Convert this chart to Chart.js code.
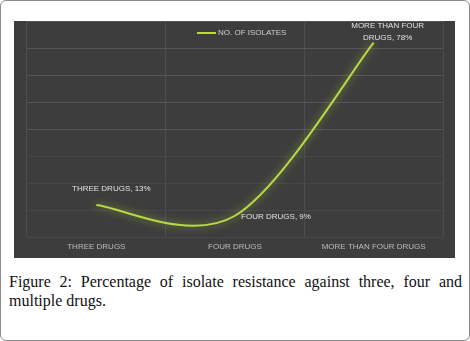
<!DOCTYPE html>
<html>
<head>
<meta charset="utf-8">
<script src="https://cdn.jsdelivr.net/npm/chart.js@4"></script>
<style>
  body { margin: 0; width: 470px; height: 341px; background: #fff; position: relative; overflow: hidden; }
  .frame { position: absolute; left: 0; top: 0; width: 468px; height: 339px; border: 1px solid #8c8c8c; border-radius: 6px; }
  .panel { position: absolute; left: 14px; top: 21px; width: 441px; height: 237px; background: #3d3d3d; }
  .caption { position: absolute; left: 9px; top: 272px; width: 453px; font-family: "Liberation Serif", "DejaVu Serif", serif; font-size: 16px; line-height: 19px; color: #111; text-align: justify; text-align-last: left; }
</style>
</head>
<body>
<div class="frame"></div>
<div class="panel"><canvas id="myChart"></canvas></div>
<div class="caption">Figure 2: Percentage of isolate resistance against three, four and multiple drugs.</div>

<script>
const categories = ['THREE DRUGS', 'FOUR DRUGS', 'MORE THAN FOUR DRUGS']
const isolates = [3, 2, 18]      // no. of isolates
const percents = [13, 9, 78]     // shown in the point labels
const yTicks = [0, 2.5, 5, 7.5, 10, 12.5, 15, 17.5, 20]

const fontFamily = '"Liberation Sans", Arial, sans-serif'
const labelFont = '8px ' + fontFamily

// excel style smoothing (catmull-rom, 1/6 of the neighbour span)
const smooth = {
    id: 'smooth',
    beforeDatasetsDraw(chart) {
        const meta = chart.getDatasetMeta(0)
        const pts = meta.data
        const n = pts.length
        pts.forEach(function(p, i){
            const prev = pts[Math.max(i - 1, 0)]
            const next = pts[Math.min(i + 1, n - 1)]
            const dx = (next.x - prev.x) / 6
            const dy = (next.y - prev.y) / 6
            p.cp1x = p.x - dx
            p.cp1y = p.y - dy
            p.cp2x = p.x + dx
            p.cp2y = p.y + dy
        })
        meta.dataset._pointsUpdated = true

        // glow round the line
        const ctx = chart.ctx
        ctx.save()
        ctx.shadowColor = 'rgba(175,215,60,0.75)'
        ctx.shadowBlur = 9
    },
    afterDatasetsDraw(chart) {
        chart.ctx.restore()
    }
}

// legend + point labels
const extras = {
    id: 'extras',
    afterDraw(chart) {
        const ctx = chart.ctx
        const ds = chart.data.datasets[0]
        ctx.save()
        ctx.font = labelFont
        ctx.textBaseline = 'middle'

        // legend
        ctx.strokeStyle = ds.borderColor
        ctx.lineWidth = 2
        ctx.beginPath()
        ctx.moveTo(183, 12)
        ctx.lineTo(202, 12)
        ctx.stroke()
        ctx.fillStyle = '#cfcfcf'
        ctx.textAlign = 'left'
        ctx.fillText(ds.label, 204, 12)

        // point labels
        const offsets = [[15, -16], [41, 1], [14, -17]]
        const pts = chart.getDatasetMeta(0).data
        ctx.fillStyle = '#e2e2e2'
        ctx.textAlign = 'center'
        pts.forEach(function(p, i){
            const text = categories[i] + ', ' + percents[i] + '%'
            let lines = [text]
            if (ctx.measureText(text).width > 90) {
                const words = text.split(' ')
                lines = [words.slice(0, 3).join(' '), words.slice(3).join(' ')]
            }
            lines.forEach(function(l, j){
                ctx.fillText(l, p.x + offsets[i][0], p.y + offsets[i][1] + j * 12)
            })
        })
        ctx.restore()
    }
}

const ctx = document.getElementById('myChart').getContext('2d')

const myChart = new Chart(ctx, {
    type: 'line',
    data: {
        labels: categories,
        datasets: [{
            label: 'NO. OF ISOLATES',
            data: isolates,
            borderColor: '#b9d846',
            borderWidth: 2,
            tension: 0.4,
            pointRadius: 0,
            fill: false
        }]
    },
    options: {
        responsive: true,
        maintainAspectRatio: false,
        animation: false,
        layout: { padding: { left: 13, right: 12, top: 0, bottom: 1 } },
        plugins: {
            legend: { display: false },
            tooltip: { enabled: false }
        },
        scales: {
            x: {
                offset: true,
                grid: { offset: true, color: '#4f4b54', drawTicks: false },
                border: { display: false },
                ticks: { color: '#bdbdbd', padding: 5, font: { family: fontFamily, size: 8 } }
            },
            y: {
                min: 0,
                max: 20,
                afterBuildTicks(axis) {
                    axis.ticks = yTicks.map(v => ({ value: v }))
                },
                grid: {
                    color: (c) => c.tick && c.tick.value >= 10 ? '#58525d' : '#48464c',
                    drawTicks: false
                },
                border: { display: false },
                ticks: { display: false }
            }
        }
    },
    plugins: [smooth, extras]
})
</script>
</body>
</html>
